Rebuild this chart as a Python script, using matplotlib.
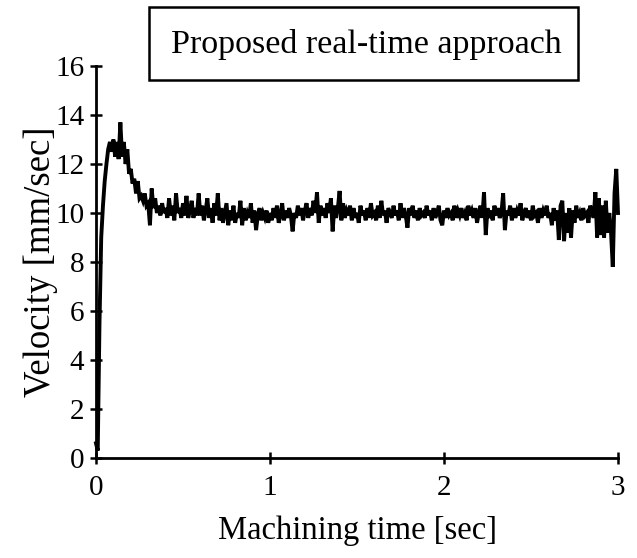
import numpy as np
import matplotlib
matplotlib.use("Agg")
import matplotlib.pyplot as plt
from matplotlib.patches import Rectangle

# ---- data ----
dt = 0.01  # sample interval [sec]
velocity = [
    0.6, 0.3, 5.5, 9.0, 10.3, 11.3, 12.0, 12.6, 12.9, 12.5,
    13.0, 12.3, 12.9, 12.2, 13.7, 12.3, 12.9, 12.0, 12.6, 11.6,
    11.8, 11.2, 11.4, 10.8, 11.3, 10.6, 10.7, 10.5, 10.8, 10.3,
    10.4, 9.5, 11.0, 10.2, 10.6, 10.0, 10.3, 9.9, 10.4, 10.0,
    10.2, 9.8, 10.6, 9.9, 10.3, 9.7, 10.8, 10.0, 10.2, 9.8,
    10.4, 9.9, 10.7, 9.8, 10.1, 10.5, 9.8, 10.2, 9.9, 10.8,
    9.9, 10.3, 9.7, 10.1, 10.6, 9.8, 10.2, 9.6, 10.4, 9.9,
    10.8, 9.7, 10.2, 9.6, 10.0, 10.4, 9.5, 10.1, 9.7, 10.3,
    9.6, 10.0, 9.8, 10.5, 9.5, 10.2, 9.7, 10.0, 9.8, 10.4,
    9.6, 10.1, 9.3, 9.9, 10.2, 9.7, 10.0, 9.8, 10.1, 9.6,
    10.0, 9.7, 10.2, 9.8, 10.3, 9.6, 9.9, 10.4, 9.7, 10.1,
    9.8, 10.2, 9.9, 9.25, 10.0, 9.8, 10.3, 9.9, 10.2, 9.7,
    10.1, 10.4, 9.8, 10.2, 9.9, 10.5, 10.0, 10.85, 9.6, 10.3,
    9.9, 10.2, 9.8, 10.4, 10.0, 10.6, 9.25, 10.3, 9.8, 10.2,
    10.9, 9.7, 10.4, 9.8, 10.1, 9.9, 10.3, 9.7, 10.2, 9.8,
    10.0, 9.6, 10.3, 9.9, 10.1, 9.7, 10.2, 9.8, 10.4, 9.9,
    10.0, 9.7, 10.3, 9.8, 10.5, 9.9, 10.1, 9.6, 10.2, 10.0,
    9.8, 10.3, 9.9, 10.1, 9.7, 10.4, 9.8, 10.2, 9.9, 9.4,
    10.2, 9.9, 10.3, 9.8, 10.1, 9.7, 10.2, 9.9, 10.0, 9.8,
    10.3, 9.9, 10.1, 9.7, 10.2, 9.8, 10.0, 10.3, 9.7, 9.5,
    10.1, 9.8, 10.2, 9.9, 10.0, 9.7, 10.3, 9.8, 10.1, 9.9,
    10.2, 9.8, 10.0, 9.7, 10.3, 9.9, 10.1, 9.8, 10.2, 9.6,
    10.0, 10.3, 9.8, 10.85, 9.1, 10.2, 9.8, 10.1, 9.7, 10.3,
    9.9, 10.2, 9.8, 10.0, 10.8, 9.3, 10.1, 9.9, 10.3, 9.7,
    10.2, 9.8, 10.1, 9.9, 10.4, 9.7, 10.0, 10.2, 9.8, 10.1,
    9.7, 10.3, 9.9, 10.0, 9.6, 10.2, 9.8, 10.1, 9.9, 10.3,
    9.8, 10.0, 9.5, 10.2, 9.7, 10.1, 8.9, 10.3, 10.5, 8.85,
    10.0, 9.2, 10.2, 9.0, 10.1, 9.6, 10.3, 9.8, 10.0, 9.7,
    10.2, 9.9, 10.0, 9.6, 10.3, 10.1, 9.8, 10.85, 9.0, 10.6,
    9.1, 10.3, 9.0, 10.5, 9.2, 10.0, 9.2, 7.8, 10.8, 11.8, 10.0,
]
time = np.arange(len(velocity)) * dt

x_ticks = [0, 1, 2, 3]
y_ticks = [0, 2, 4, 6, 8, 10, 12, 14, 16]
title_text = "Proposed real-time approach"
x_label = "Machining time [sec]"
y_label = "Velocity [mm/sec]"

# ---- figure ----
plt.rcParams['font.family'] = ['Liberation Serif', 'DejaVu Serif']
W, H = 637, 558
fig = plt.figure(figsize=(W / 100, H / 100), dpi=100)
ax = fig.add_axes([96 / W, 1 - 458 / H, (618 - 96) / W, (458 - 66) / H])

ax.plot(time, velocity, color='black', lw=2.8, solid_joinstyle='miter', clip_on=False)

ax.set_xlim(0, 3)
ax.set_ylim(0, 16)
ax.set_xticks(x_ticks)
ax.set_yticks(y_ticks)
for s in ['top', 'right']:
    ax.spines[s].set_visible(False)
for s in ['left', 'bottom']:
    ax.spines[s].set_linewidth(2.0)
ax.tick_params(direction='inout', length=9, width=1.8, labelsize=21, colors='black')
ax.tick_params(axis='x', pad=8)
ax.tick_params(axis='y', pad=4)
ax.set_xlabel(x_label, fontsize=23.5, labelpad=10)
ax.set_ylabel(y_label, fontsize=26.5, labelpad=-2)

# title box
fig.patches.append(Rectangle((149 / W, 1 - 80 / H), (578 - 149) / W, (80 - 7) / H,
                             transform=fig.transFigure, fill=False, edgecolor='black', lw=1.8))
fig.text(366 / W, 1 - 45 / H, title_text, ha='center', va='center', fontsize=24.5)

fig.savefig('out.png', dpi=100)
